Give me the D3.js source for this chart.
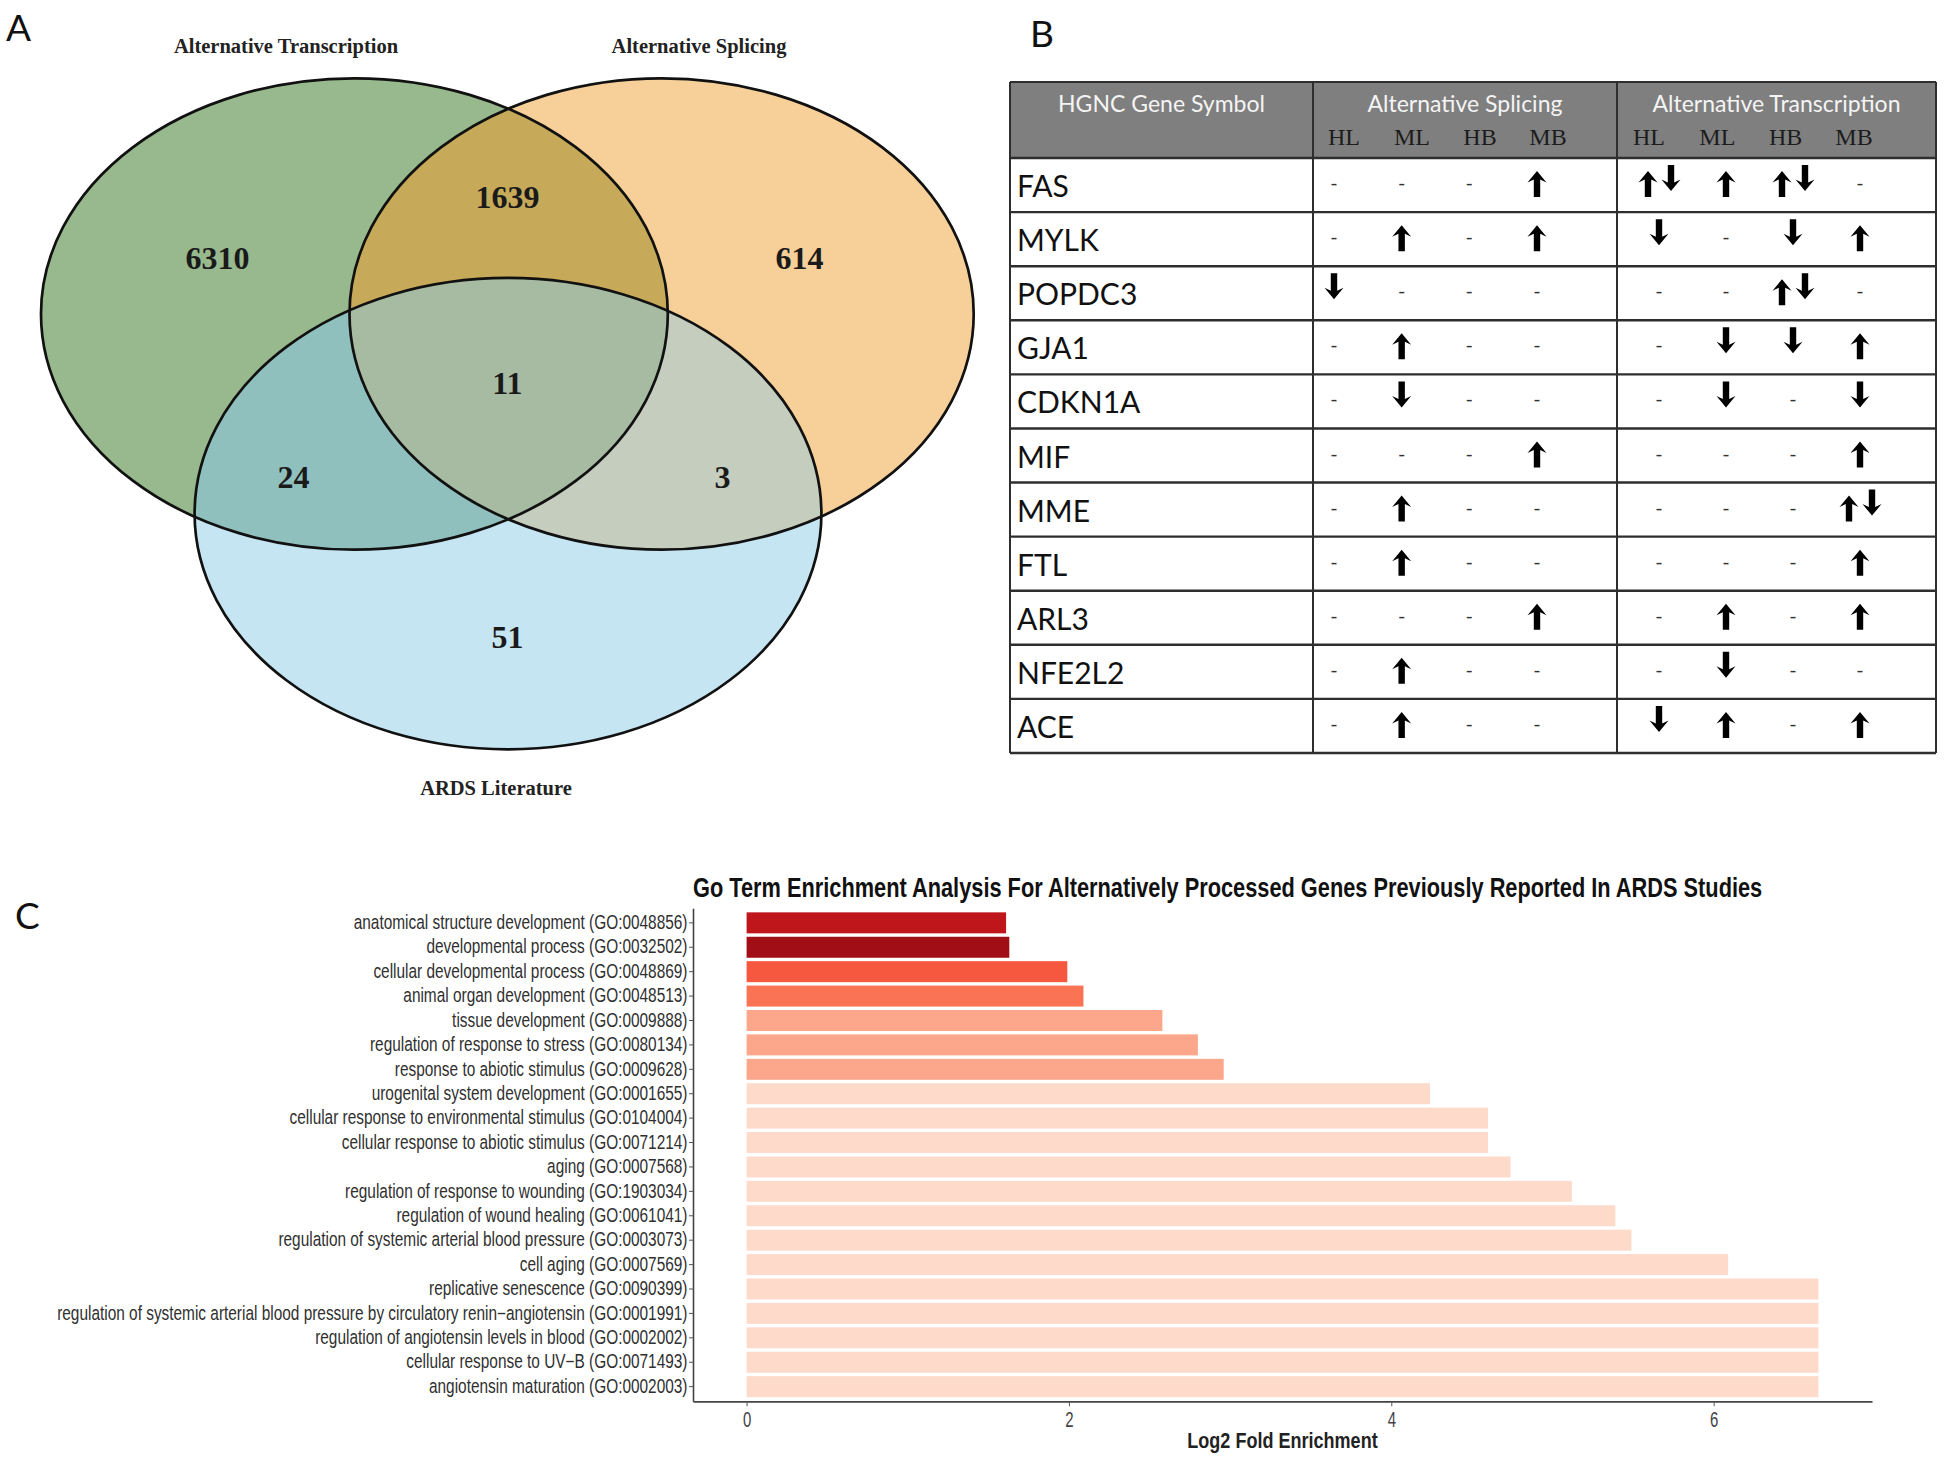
<!DOCTYPE html>
<html><head><meta charset="utf-8">
<script src="https://cdn.jsdelivr.net/npm/d3@7"></script>
<style>body{margin:0;background:#fff}svg{display:block}</style>
</head><body>
<script>
// ================= DATA =================
// Panel A – Venn diagram
const vennSets = ["Alternative Transcription", "Alternative Splicing", "ARDS Literature"];
const vennRegionKeys = ["100", "110", "010", "111", "101", "011", "001"]; // membership in (Transcription, Splicing, ARDS)
const vennCounts = [6310, 1639, 614, 11, 24, 3, 51];

// Panel B – table
const genes = ["FAS", "MYLK", "POPDC3", "GJA1", "CDKN1A", "MIF", "MME", "FTL", "ARL3", "NFE2L2", "ACE"];
const conditions = ["HL", "ML", "HB", "MB"];
const tableGroups = ["Alternative Splicing", "Alternative Transcription"];
const splicingCalls = [
  ["-", "-", "-", "↑"],
  ["-", "↑", "-", "↑"],
  ["↓", "-", "-", "-"],
  ["-", "↑", "-", "-"],
  ["-", "↓", "-", "-"],
  ["-", "-", "-", "↑"],
  ["-", "↑", "-", "-"],
  ["-", "↑", "-", "-"],
  ["-", "-", "-", "↑"],
  ["-", "↑", "-", "-"],
  ["-", "↑", "-", "-"]
];
const transcriptionCalls = [
  ["↑↓", "↑", "↑↓", "-"],
  ["↓", "-", "↓", "↑"],
  ["-", "-", "↑↓", "-"],
  ["-", "↓", "↓", "↑"],
  ["-", "↓", "-", "↓"],
  ["-", "-", "-", "↑"],
  ["-", "-", "-", "↑↓"],
  ["-", "-", "-", "↑"],
  ["-", "↑", "-", "↑"],
  ["-", "↓", "-", "-"],
  ["↓", "↑", "-", "↑"]
];

// Panel C – GO term enrichment
const goTerms = [
  "anatomical structure development (GO:0048856)",
  "developmental process (GO:0032502)",
  "cellular developmental process (GO:0048869)",
  "animal organ development (GO:0048513)",
  "tissue development (GO:0009888)",
  "regulation of response to stress (GO:0080134)",
  "response to abiotic stimulus (GO:0009628)",
  "urogenital system development (GO:0001655)",
  "cellular response to environmental stimulus (GO:0104004)",
  "cellular response to abiotic stimulus (GO:0071214)",
  "aging (GO:0007568)",
  "regulation of response to wounding (GO:1903034)",
  "regulation of wound healing (GO:0061041)",
  "regulation of systemic arterial blood pressure (GO:0003073)",
  "cell aging (GO:0007569)",
  "replicative senescence (GO:0090399)",
  "regulation of systemic arterial blood pressure by circulatory renin\u2212angiotensin (GO:0001991)",
  "regulation of angiotensin levels in blood (GO:0002002)",
  "cellular response to UV\u2212B (GO:0071493)",
  "angiotensin maturation (GO:0002003)"
];
const log2FoldEnrichment = [1.61, 1.63, 1.99, 2.09, 2.58, 2.80, 2.96, 4.24, 4.60, 4.60, 4.74, 5.12, 5.39, 5.49, 6.09, 6.65, 6.65, 6.65, 6.65, 6.65];
const negLog10FDR = [7.9, 8.75, 5.5, 4.7, 3.1, 3.1, 3.1, 1.4, 1.4, 1.4, 1.4, 1.4, 1.4, 1.4, 1.4, 1.4, 1.4, 1.4, 1.4, 1.4];
const xTickValues = [0, 2, 4, 6];
const chartTitle = "Go Term Enrichment Analysis For Alternatively Processed Genes Previously Reported In ARDS Studies";
const xAxisTitle = "Log2 Fold Enrichment";

// ================= SETUP =================
const W = 1950, H = 1465;
const svg = d3.select("body").append("svg").attr("width", W).attr("height", H);
const defs = svg.append("defs");

svg.selectAll("text.panel").data([["A", 6, 41], ["B", 1030, 47], ["C", 15, 929]]).join("text")
  .attr("class", "panel").attr("x", d => d[1]).attr("y", d => d[2])
  .attr("font-family", "Lato, 'Open Sans', sans-serif").attr("font-size", 37).attr("fill", "#111")
  .text(d => d[0]);

// ================= PANEL A =================
const vennLayout = [
  {cx: 354.4, cy: 314, rx: 313.4, ry: 235.7, fill: "#98b98d", lx: 286, ly: 53},
  {cx: 661.6, cy: 314, rx: 312.1, ry: 235.7, fill: "#f7cf98", lx: 699, ly: 53},
  {cx: 508, cy: 513.6, rx: 313.4, ry: 235.7, fill: "#c5e5f2", lx: 496, ly: 795}
];
const vennLabelAnchor = {
  "100": [217.6, 257.4], "110": [507.4, 196.5], "010": [799.6, 257.4], "111": [507.4, 383],
  "101": [293.5, 476.3], "011": [722.5, 476.3], "001": [507.4, 636.7]
};
const overlapFill = {"110": "#c7aa59", "101": "#8fc0be", "011": "#c5cdbf", "111": "#a6bba2"};

vennLayout.forEach((e, i) => {
  defs.append("clipPath").attr("id", "vclip" + i).append("ellipse")
    .attr("cx", e.cx).attr("cy", e.cy).attr("rx", e.rx).attr("ry", e.ry);
});
const vA = svg.append("g");
function ell(g, e, fill) {
  return g.append("ellipse").attr("cx", e.cx).attr("cy", e.cy).attr("rx", e.rx).attr("ry", e.ry).attr("fill", fill);
}
vennLayout.forEach(e => ell(vA, e, e.fill));
ell(vA.append("g").attr("clip-path", "url(#vclip0)"), vennLayout[1], overlapFill["110"]);
ell(vA.append("g").attr("clip-path", "url(#vclip0)"), vennLayout[2], overlapFill["101"]);
ell(vA.append("g").attr("clip-path", "url(#vclip1)"), vennLayout[2], overlapFill["011"]);
ell(vA.append("g").attr("clip-path", "url(#vclip0)").append("g").attr("clip-path", "url(#vclip1)"), vennLayout[2], overlapFill["111"]);
vennLayout.forEach(e => ell(vA, e, "none").attr("stroke", "#111").attr("stroke-width", 2.7));

vA.selectAll("text.count").data(vennRegionKeys.map((k, i) => ({k, v: vennCounts[i]}))).join("text")
  .attr("class", "count")
  .attr("x", d => vennLabelAnchor[d.k][0])
  .attr("y", d => vennLabelAnchor[d.k][1])
  .attr("dy", "0.35em").attr("text-anchor", "middle")
  .attr("font-family", "'Liberation Serif', 'Times New Roman', serif").attr("font-weight", "bold")
  .attr("font-size", 32).attr("fill", "#1a1a1a").text(d => d.v);
vA.selectAll("text.setlab").data(vennSets).join("text").attr("class", "setlab")
  .attr("x", (d, i) => vennLayout[i].lx).attr("y", (d, i) => vennLayout[i].ly)
  .attr("text-anchor", "middle")
  .attr("font-family", "'Liberation Serif', 'Times New Roman', serif").attr("font-weight", "bold")
  .attr("font-size", 20.5).attr("fill", "#222").text(d => d);

// ================= PANEL B =================
const tb = {left: 1010, right: 1936, top: 82, headBottom: 158, bottom: 753, cols: [1010, 1313, 1617, 1936]};
const gB = svg.append("g");
const rowY = d3.scaleBand().domain(genes).range([tb.headBottom, tb.bottom]);
gB.append("rect").attr("x", tb.left).attr("y", tb.top).attr("width", tb.right - tb.left)
  .attr("height", tb.headBottom - tb.top).attr("fill", "#7f7f7f");

const headFont = "Lato, 'Open Sans', sans-serif";
gB.append("text").attr("x", (tb.cols[0] + tb.cols[1]) / 2).attr("y", 112).attr("text-anchor", "middle")
  .attr("font-family", headFont).attr("font-size", 23).attr("fill", "#f4f4f4").text("HGNC Gene Symbol");
const subLabelOffset = [[31, 235], [32, 237]];
const markOffset = [[21, 224], [42, 243]];
tableGroups.forEach((grp, gi) => {
  const cl = tb.cols[gi + 1], cr = tb.cols[gi + 2];
  gB.append("text").attr("x", (cl + cr) / 2).attr("y", 112).attr("text-anchor", "middle")
    .attr("font-family", headFont).attr("font-size", 23).attr("fill", "#f4f4f4").text(grp);
  const sx = d3.scalePoint().domain(conditions).range([cl + subLabelOffset[gi][0], cl + subLabelOffset[gi][1]]);
  gB.selectAll("text.sub" + gi).data(conditions).join("text").attr("class", "sub" + gi)
    .attr("x", d => sx(d)).attr("y", 145).attr("text-anchor", "middle")
    .attr("font-family", "'Liberation Serif', 'Times New Roman', serif").attr("font-size", 24)
    .attr("fill", "#1c1c1c").text(d => d);
});

gB.selectAll("text.gene").data(genes).join("text").attr("class", "gene")
  .attr("x", tb.left + 7).attr("y", d => rowY(d) + rowY.bandwidth() / 2 + 12)
  .attr("font-family", headFont).attr("font-size", 30).attr("fill", "#111").text(d => d);

// arrow glyph (pointing up, centred on 0,0)
const arrowUp = "M0,-13 L9.5,-1.5 L3.2,-4.5 L3.2,13 L-3.2,13 L-3.2,-4.5 L-9.5,-1.5 Z";
[splicingCalls, transcriptionCalls].forEach((calls, gi) => {
  const cl = tb.cols[gi + 1];
  const mx = d3.scalePoint().domain(conditions).range([cl + markOffset[gi][0], cl + markOffset[gi][1]]);
  genes.forEach((gene, ri) => {
    const cy = rowY(gene) + rowY.bandwidth() / 2;
    calls[ri].forEach((c, ci) => {
      const x0 = mx(conditions[ci]);
      if (c === "-") {
        gB.append("text").attr("x", x0).attr("y", cy + 5).attr("text-anchor", "middle")
          .attr("font-family", headFont).attr("font-size", 20).attr("fill", "#333").text("-");
        return;
      }
      const syms = Array.from(c);
      syms.forEach((s, si) => {
        const dx = syms.length === 2 ? (si === 0 ? -11 : 12) : 0;
        const up = s === "↑";
        gB.append("path").attr("d", arrowUp)
          .attr("transform", `translate(${x0 + dx},${cy + (up ? -1 : -7)}) rotate(${up ? 0 : 180})`)
          .attr("fill", "#000");
      });
    });
  });
});

const lineCol = "#2e2e2e";
const hLines = genes.map(g => rowY(g)).concat([tb.bottom]);
gB.selectAll("line.h").data(hLines).join("line").attr("class", "h")
  .attr("x1", tb.left).attr("x2", tb.right).attr("y1", d => d).attr("y2", d => d)
  .attr("stroke", lineCol).attr("stroke-width", 2.4);
gB.selectAll("line.v").data(tb.cols).join("line").attr("class", "v")
  .attr("x1", d => d).attr("x2", d => d).attr("y1", tb.top).attr("y2", tb.bottom)
  .attr("stroke", lineCol).attr("stroke-width", 2);
gB.append("line").attr("x1", tb.left).attr("x2", tb.right).attr("y1", tb.top).attr("y2", tb.top)
  .attr("stroke", lineCol).attr("stroke-width", 2);

// ================= PANEL C =================
const pc = {left: 693, right: 1872, top: 908.2, bottom: 1401.3};
const gC = svg.append("g");
const xMax = d3.max(log2FoldEnrichment), xPad = xMax * 0.05;
const x = d3.scaleLinear().domain([-xPad, xMax + xPad]).range([pc.left, pc.right]);
const y = d3.scaleBand().domain(goTerms).range([pc.top, pc.bottom]).paddingInner(0.14).paddingOuter(0.17);
const color = d3.scaleSequential(d3.interpolateReds).domain([0, 10]);
const narrow = "'Liberation Sans', Arial, sans-serif";

gC.selectAll("rect.bar").data(goTerms).join("rect").attr("class", "bar")
  .attr("x", x(0)).attr("y", d => y(d))
  .attr("width", (d, i) => x(log2FoldEnrichment[i]) - x(0))
  .attr("height", y.bandwidth())
  .attr("fill", (d, i) => color(negLog10FDR[i]));

const yAxis = gC.append("g").attr("transform", `translate(${pc.left},0)`)
  .call(d3.axisLeft(y).tickSize(4).tickSizeOuter(0).tickPadding(3));
yAxis.select(".domain").attr("stroke", "#444").attr("stroke-width", 1.6);
yAxis.selectAll(".tick line").attr("stroke", "#555");
yAxis.selectAll(".tick text").attr("font-family", narrow).attr("font-size", 19.5)
  .attr("fill", "#303030").attr("transform", "scale(0.79,1)");

const xAxis = gC.append("g").attr("transform", `translate(0,${pc.bottom})`)
  .call(d3.axisBottom(x).tickValues(xTickValues).tickSize(5).tickSizeOuter(0).tickPadding(5));
xAxis.select(".domain").attr("stroke", "#444").attr("stroke-width", 1.8);
xAxis.selectAll(".tick line").attr("stroke", "#555");
xAxis.selectAll(".tick text").attr("font-family", narrow).attr("font-size", 22)
  .attr("fill", "#444").attr("transform", "scale(0.68,1)");

const titleEl = gC.append("text")
  .attr("font-family", narrow).attr("font-weight", "bold").attr("font-size", 27)
  .attr("fill", "#111").text(chartTitle);
const titleScale = 1070 / titleEl.node().getComputedTextLength();
titleEl.attr("transform", `translate(${pc.left},897) scale(${titleScale},1)`);

gC.append("text").attr("transform", `translate(${(pc.left + pc.right) / 2},1448) scale(0.82,1)`)
  .attr("text-anchor", "middle").attr("font-family", narrow).attr("font-weight", "bold")
  .attr("font-size", 22).attr("fill", "#222").text(xAxisTitle);
</script>
</body></html>
